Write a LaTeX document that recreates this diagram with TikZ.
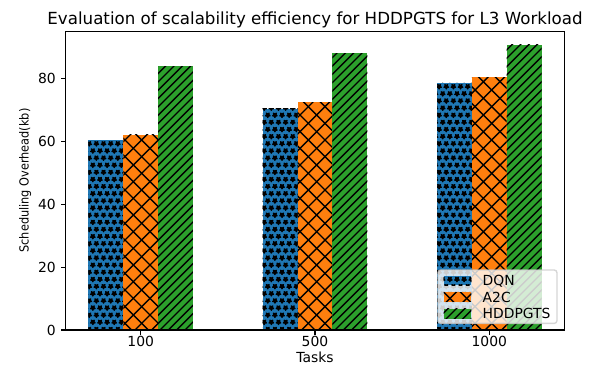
\documentclass[tikz,border=0pt]{standalone}
\usepackage{fontspec}
\setmainfont{DejaVu Sans}
\definecolor{mplblue}{HTML}{1F77B4}
\definecolor{mplorange}{HTML}{FF7F0E}
\definecolor{mplgreen}{HTML}{2CA02C}
\tikzset{
  hatchline/.style={black, line width=1.39bp},
  spine/.style={black, line width=1.11bp, line cap=rect},
  ticklbl/.style={font=\fontsize{13.9bp}{16bp}\selectfont, inner sep=0pt},
}
% forward slashes x+y=c, spacing #5, inside [#1,#2]x[#3,#4]
\newcommand{\fwdhatch}[5]{%
  \begin{scope}
    \clip (#1,#3) rectangle (#2,#4);
    \pgfmathtruncatemacro\kmin{floor((#1+#3-365)/#5)-1}%
    \pgfmathtruncatemacro\kmax{ceil((#2+#4-365)/#5)+1}%
    \foreach \k in {\kmin,...,\kmax}{%
      \pgfmathsetmacro\cc{365+\k*#5}%
      \draw[hatchline] ({#1-2},{\cc-#1+2}) -- ({#2+2},{\cc-#2-2});
    }
  \end{scope}}
% back slashes y-x=c
\newcommand{\bckhatch}[5]{%
  \begin{scope}
    \clip (#1,#3) rectangle (#2,#4);
    \pgfmathtruncatemacro\kmin{floor((365-#4+#1)/#5)-1}%
    \pgfmathtruncatemacro\kmax{ceil((365-#3+#2)/#5)+1}%
    \foreach \k in {\kmin,...,\kmax}{%
      \pgfmathsetmacro\cc{365-\k*#5}%
      \draw[hatchline] ({#1-2},{\cc+#1-2}) -- ({#2+2},{\cc+#2+2});
    }
  \end{scope}}
% staggered five-point stars
\def\starsp{7.14}
\def\srout{2.38}
\def\srin{1.19}
\newcommand{\onestar}[2]{%
  \filldraw[black, line width=1.2bp, line join=round, shift={(#1,#2)}]
    (90:\srout) -- (126:\srin) -- (162:\srout) -- (198:\srin) -- (234:\srout)
    -- (270:\srin) -- (306:\srout) -- (342:\srin) -- (18:\srout) -- (54:\srin) -- cycle;}
\newcommand{\starhatch}[4]{%
  \begin{scope}
    \clip (#1,#3) rectangle (#2,#4);
    \pgfmathtruncatemacro\jmin{floor((365-#4)/\starsp)-1}%
    \pgfmathtruncatemacro\jmax{ceil((365-#3)/\starsp)+1}%
    \pgfmathtruncatemacro\imin{floor(#1/\starsp)-1}%
    \pgfmathtruncatemacro\imax{ceil(#2/\starsp)+1}%
    \foreach \j in {\jmin,...,\jmax}{%
      \pgfmathsetmacro\sy{365-\j*\starsp}%
      \pgfmathsetmacro\sh{mod(abs(\j),2)*0.5}%
      \foreach \i in {\imin,...,\imax}{%
        \pgfmathsetmacro\sx{(\i+\sh)*\starsp}%
        \onestar{\sx}{\sy}
      }
    }
  \end{scope}}
% bar kinds: x0, x1, ytop, ybottom
\newcommand{\dqnbar}[4]{\fill[mplblue] (#1,#3) rectangle (#2,#4); \starhatch{#1}{#2}{#3}{#4}}
\newcommand{\acbar}[4]{\fill[mplorange] (#1,#3) rectangle (#2,#4);
  \fwdhatch{#1}{#2}{#3}{#4}{16.667}\bckhatch{#1}{#2}{#3}{#4}{16.667}}
\newcommand{\hdbar}[4]{\fill[mplgreen] (#1,#3) rectangle (#2,#4); \fwdhatch{#1}{#2}{#3}{#4}{8.333}}

\begin{document}
\begin{tikzpicture}[x=1bp,y=-1bp]
  \useasboundingbox (0,0) rectangle (597,365);
  \def\axL{65.7}\def\axR{564.3}\def\axT{31.7}\def\axB{330}
  \def\ysc{3.14}

  % grouped bars: DQN, A2C, HDDPGTS for 100, 500, 1000 tasks
  \foreach \g/\vd/\va/\vh in {0/60.4/62.2/84.0, 1/70.5/72.5/88.2, 2/78.7/80.5/90.8}{
    \pgfmathsetmacro\cx{140.7+174.3*\g}
    \pgfmathsetmacro\xa{\cx-52.29}
    \pgfmathsetmacro\xb{\cx-17.43}
    \pgfmathsetmacro\xc{\cx+17.43}
    \pgfmathsetmacro\xd{\cx+52.29}
    \pgfmathsetmacro\td{\axB-\vd*\ysc}
    \pgfmathsetmacro\ta{\axB-\va*\ysc}
    \pgfmathsetmacro\th{\axB-\vh*\ysc}
    \dqnbar{\xa}{\xb}{\td}{\axB}
    \acbar{\xb}{\xc}{\ta}{\axB}
    \hdbar{\xc}{\xd}{\th}{\axB}
  }

  % axes frame
  \draw[spine] (\axL,\axT) rectangle (\axR,\axB);

  % y ticks
  \foreach \v in {0,20,40,60,80}{
    \pgfmathsetmacro\yy{\axB-\v*\ysc}
    \coordinate (yt\v) at (\axL,\yy);
    \draw[spine, line cap=butt] (yt\v) -- ++(-4.86,0);
    \node[ticklbl, anchor=base east] (ylab\v) at ({\axL-9.72},{\yy+5.07}) {\v};
  }
  % x ticks
  \foreach \g/\lab in {0/100, 1/500, 2/1000}{
    \pgfmathsetmacro\cx{140.7+174.3*\g}
    \coordinate (xt\g) at (\cx,\axB);
    \draw[spine, line cap=butt] (xt\g) -- ++(0,4.86);
    \node[ticklbl, anchor=base] (xlab\g) at (\cx,346.7) {\lab};
  }

  % axis labels and title
  \node[ticklbl, anchor=base] (xtitle) at (315,362.5) {Tasks};
  \node[inner sep=0pt, anchor=base, rotate=90, font=\fontsize{12.5bp}{14bp}\selectfont]
    (ytitle) at (28.6,180.5) {\scalebox{0.905}[1]{Scheduling Overhead(kb)}};
  \node[inner sep=0pt, anchor=base, font=\fontsize{16.67bp}{19bp}\selectfont]
    (title) at (315,24.3) {Evaluation of scalability efficiency for HDDPGTS for L3 Workload};

  % legend
  \draw[draw=black!20, line width=1.39bp, fill=white, fill opacity=0.8, draw opacity=0.8,
        rounded corners=2.8bp] (438,270) rectangle (557,323.4);
  \dqnbar{443.6}{471.4}{275.5}{285.3}
  \acbar{443.6}{471.4}{292.1}{301.9}
  \hdbar{443.6}{471.4}{308.7}{318.5}
  \node[ticklbl, anchor=base west] (lgd1) at (482.5,285.5) {DQN};
  \node[ticklbl, anchor=base west] (lgd2) at (482.5,302.1) {A2C};
  \node[ticklbl, anchor=base west] (lgd3) at (482.5,318.7) {HDDPGTS};
\end{tikzpicture}
\end{document}
